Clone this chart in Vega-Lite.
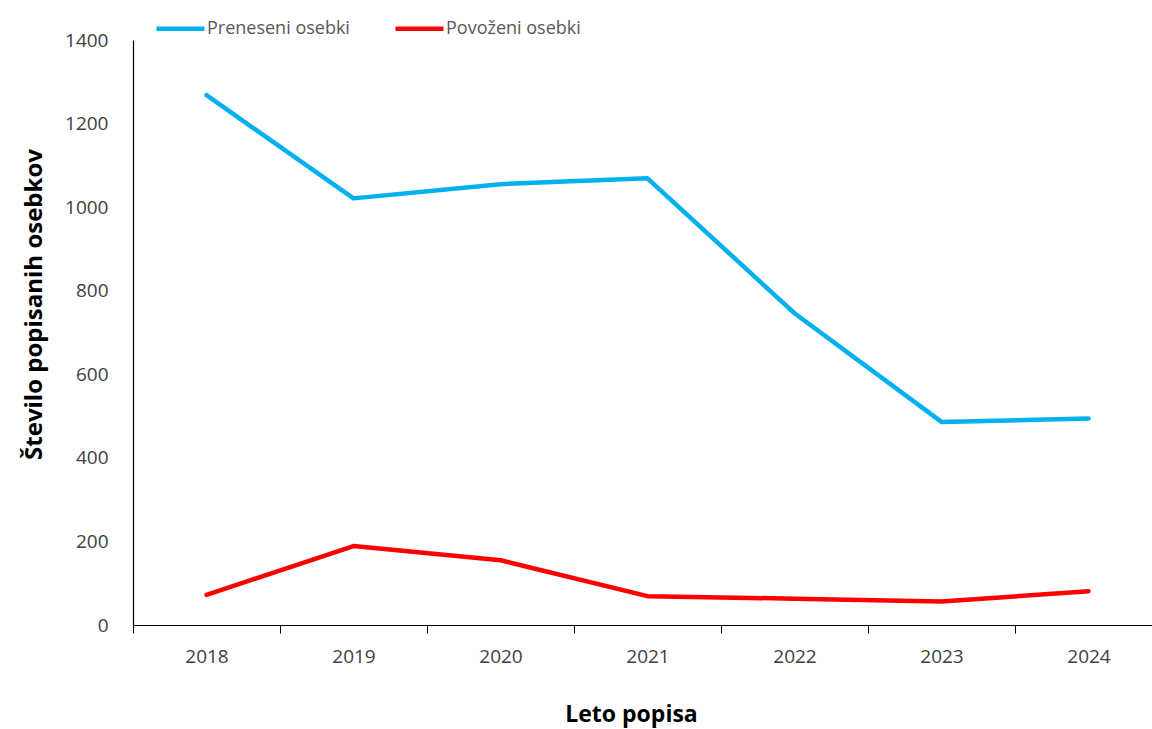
{
  "$schema": "https://vega.github.io/schema/vega-lite/v6.json",
  "width": 1019,
  "height": 585,
  "autosize": {"type": "none"},
  "padding": {"left": 133, "top": 40, "right": 0, "bottom": 104},
  "background": "white",
  "config": {
    "view": {"stroke": null},
    "font": "Open Sans"
  },
  "data": {
    "values": [
      {"leto": "2018", "serija": "Preneseni osebki", "stevilo": 1268},
      {"leto": "2019", "serija": "Preneseni osebki", "stevilo": 1021},
      {"leto": "2020", "serija": "Preneseni osebki", "stevilo": 1055},
      {"leto": "2021", "serija": "Preneseni osebki", "stevilo": 1069},
      {"leto": "2022", "serija": "Preneseni osebki", "stevilo": 746},
      {"leto": "2023", "serija": "Preneseni osebki", "stevilo": 486},
      {"leto": "2024", "serija": "Preneseni osebki", "stevilo": 494},
      {"leto": "2018", "serija": "Povoženi osebki", "stevilo": 72},
      {"leto": "2019", "serija": "Povoženi osebki", "stevilo": 189},
      {"leto": "2020", "serija": "Povoženi osebki", "stevilo": 155},
      {"leto": "2021", "serija": "Povoženi osebki", "stevilo": 69},
      {"leto": "2022", "serija": "Povoženi osebki", "stevilo": 63},
      {"leto": "2023", "serija": "Povoženi osebki", "stevilo": 56},
      {"leto": "2024", "serija": "Povoženi osebki", "stevilo": 81}
    ]
  },
  "mark": {"type": "line", "strokeWidth": 4.5, "strokeCap": "round", "strokeJoin": "round"},
  "encoding": {
    "x": {
      "field": "leto",
      "type": "ordinal",
      "scale": {"type": "band", "paddingInner": 0, "paddingOuter": 0, "range": [0, 1029]},
      "axis": {
        "title": "Leto popisa",
        "titleFont": "Open Sans",
        "titleFontSize": 23,
        "titleFontWeight": "bold",
        "titleColor": "#000000",
        "titlePadding": 37,
        "titleX": 498,
        "labelAngle": 0,
        "labelFontSize": 19,
        "labelColor": "#404040",
        "labelPadding": 14,
        "tickBand": "extent",
        "tickSize": 8,
        "tickColor": "#000000",
        "domainColor": "#000000",
        "domainWidth": 1.2,
        "grid": false
      }
    },
    "y": {
      "field": "stevilo",
      "type": "quantitative",
      "scale": {"domain": [0, 1400]},
      "axis": {
        "title": "Število popisanih osebkov",
        "titleFont": "Open Sans",
        "titleFontSize": 24,
        "titleFontWeight": "bold",
        "titleColor": "#000000",
        "titlePadding": 18,
        "titleY": 264,
        "values": [0, 200, 400, 600, 800, 1000, 1200, 1400],
        "format": "d",
        "labelFontSize": 19,
        "labelColor": "#404040",
        "labelPadding": 25,
        "ticks": false,
        "domainColor": "#000000",
        "domainWidth": 1.2,
        "grid": false
      }
    },
    "color": {
      "field": "serija",
      "type": "nominal",
      "scale": {"domain": ["Preneseni osebki", "Povoženi osebki"], "range": ["#00B0F0", "#FF0000"]},
      "legend": {
        "title": null,
        "orient": "none",
        "legendX": 21,
        "legendY": -38,
        "direction": "horizontal",
        "symbolType": "stroke",
        "symbolSize": 2300,
        "symbolStrokeWidth": 4.5,
        "labelFont": "Open Sans",
        "labelFontSize": 18,
        "labelColor": "#595959",
        "labelOffset": 0,
        "columnPadding": 36
      }
    }
  }
}
